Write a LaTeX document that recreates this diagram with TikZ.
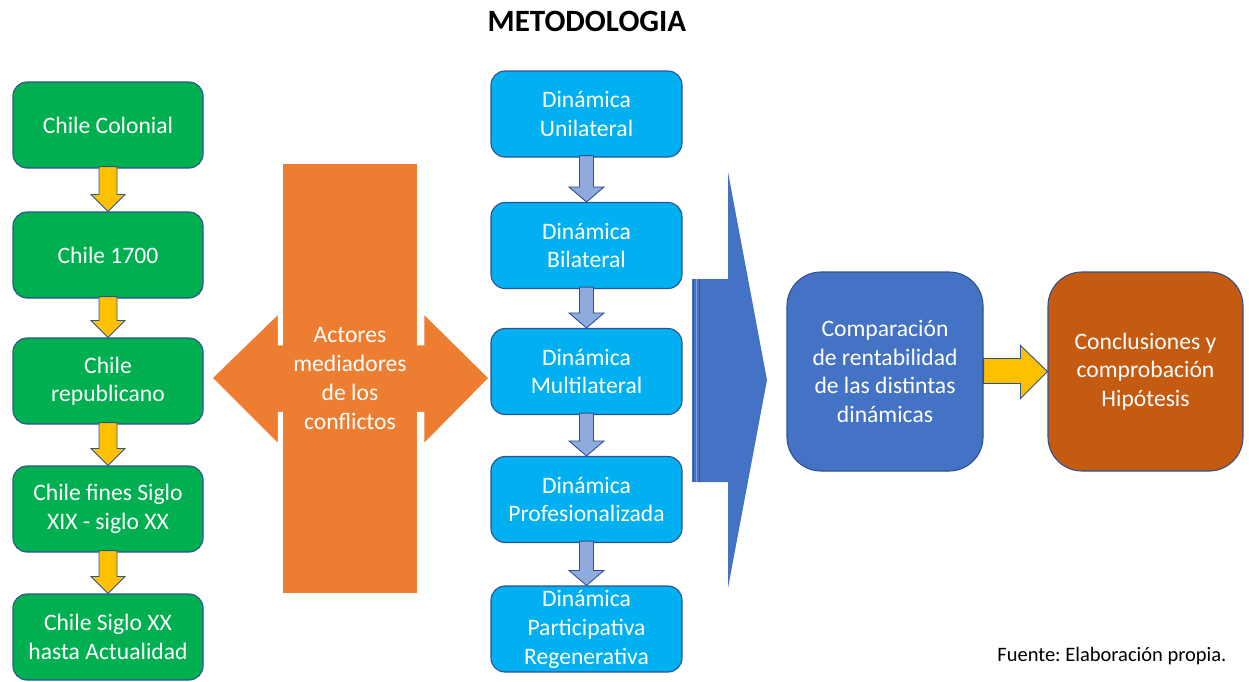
\documentclass[tikz,border=0pt]{standalone}
\usepackage{fontspec}
\setmainfont{Carlito}
\usetikzlibrary{calc}
\frenchspacing
\definecolor{gfill}{HTML}{00B050}
\definecolor{bline}{HTML}{2F528F}
\definecolor{yfill}{HTML}{FFC000}
\definecolor{ofill}{HTML}{ED7D31}
\definecolor{cyanf}{HTML}{00B0F0}
\definecolor{lbarrow}{HTML}{8FAADC}
\definecolor{accb}{HTML}{4472C4}
\definecolor{rust}{HTML}{C55A11}
\tikzset{
  box/.style={rectangle, rounded corners=14pt, draw=bline, line width=1.1pt,
    text=white, align=center, inner sep=2pt,
    font=\fontsize{23.6}{28.6}\selectfont},
  greenbox/.style={box, fill=gfill, minimum width=190pt, minimum height=86pt},
  cyanbox/.style={box, fill=cyanf, minimum width=191pt, minimum height=86pt},
  bigbox/.style={box, rounded corners=34pt, minimum width=196pt, minimum height=199pt},
  yarr/.style={fill=yfill, draw=bline, line width=0.9pt},
  barr/.style={fill=lbarrow, draw=bline, line width=0.9pt},
}
% vertical block arrow from node #2 (south) to node #3 (north)
\newcommand\vblock[6]{%
  \path[#1] let \p1=(#2.south), \p2=(#3.north) in
    (\x1-#4,\y1+2pt) -- (\x1+#4,\y1+2pt) -- (\x1+#4,\y2+#6) -- (\x1+#5,\y2+#6)
    -- (\x1,\y2) -- (\x1-#5,\y2+#6) -- (\x1-#4,\y2+#6) -- cycle;}
\begin{document}
\begin{tikzpicture}[x=1pt,y=-1pt]
\useasboundingbox (0,0) rectangle (1249,681);

\node[font=\fontsize{31}{36}\selectfont\bfseries] (title) at (587,21) {METODOLOGIA};

% green column
\node[greenbox] (g1) at (108,125) {Chile Colonial};
\node[greenbox] (g2) at (108,255) {Chile 1700};
\node[greenbox] (g3) at (108,381) {Chile\\republicano};
\node[greenbox] (g4) at (108,509) {Chile fines Siglo\\XIX - siglo XX};
\node[greenbox] (g5) at (108,637) {Chile Siglo XX\\hasta Actualidad};
\vblock{yarr}{g1}{g2}{9pt}{17pt}{17pt}
\vblock{yarr}{g2}{g3}{9pt}{17pt}{17pt}
\vblock{yarr}{g3}{g4}{9pt}{17pt}{17pt}
\vblock{yarr}{g4}{g5}{9pt}{17pt}{17pt}

% orange double arrow with central bar
\path[fill=ofill, draw=white, line width=2.5pt, line join=miter]
  (211,378) -- (279,312) -- (279,344) -- (423,344) -- (423,312) -- (490,378)
  -- (423,446) -- (423,413) -- (279,413) -- (279,446) -- cycle;
\node[rectangle, fill=ofill, minimum width=134pt, minimum height=429pt,
  text=white, align=center, font=\fontsize{23.6}{29}\selectfont] (act) at (350,378.5)
  {Actores\\mediadores\\de los\\conflictos};

% cyan column
\node[cyanbox] (d1) at (586.5,114) {Dinámica\\Unilateral};
\node[cyanbox] (d2) at (586.5,245.5) {Dinámica\\Bilateral};
\node[cyanbox] (d3) at (586.5,371.5) {Dinámica\\Multilateral};
\node[cyanbox] (d4) at (586.5,499.5) {Dinámica\\Profesionalizada};
\node[cyanbox, font=\fontsize{23.6}{29}\selectfont] (d5) at (586.5,629) {Dinámica\\Participativa\\Regenerativa};
\vblock{barr}{d1}{d2}{7pt}{17.5pt}{15pt}
\vblock{barr}{d2}{d3}{7pt}{17.5pt}{15pt}
\vblock{barr}{d3}{d4}{7pt}{17.5pt}{15pt}
\vblock{barr}{d4}{d5}{7pt}{17.5pt}{15pt}

% big blue chevron arrow
\path[fill=accb] (692,279) -- (728,279) -- (728,172) -- (767,380) -- (728,588)
  -- (728,482) -- (692,482) -- cycle;
\draw[color=bline!70!accb, line width=0.8pt] (693,279) -- (693,482);
\draw[color=white!35!accb, line width=0.8pt] (696,279) -- (696,482);
\draw[color=bline!70!accb, line width=0.8pt] (699.5,279) -- (699.5,482);

% right boxes
\node[bigbox, fill=accb] (comp) at (885,371.5)
  {Comparación\\de rentabilidad\\de las distintas\\dinámicas};
\node[bigbox, fill=rust, minimum width=195pt] (conc) at (1145.5,371.5)
  {Conclusiones y\\comprobación\\Hipótesis};
\path[yarr] let \p1=(comp.east), \p2=(conc.west) in
  (\x1,\y1+13pt) -- (\x2-27pt,\y1+13pt) -- (\x2-27pt,\y1+26pt) -- (\x2,\y1)
  -- (\x2-27pt,\y1-27pt) -- (\x2-27pt,\y1-12pt) -- (\x1,\y1-12pt) -- cycle;

\node[anchor=east, font=\fontsize{20.5}{24}\selectfont] (src) at (1230,656) {Fuente: Elaboración propia.};
\end{tikzpicture}
\end{document}
